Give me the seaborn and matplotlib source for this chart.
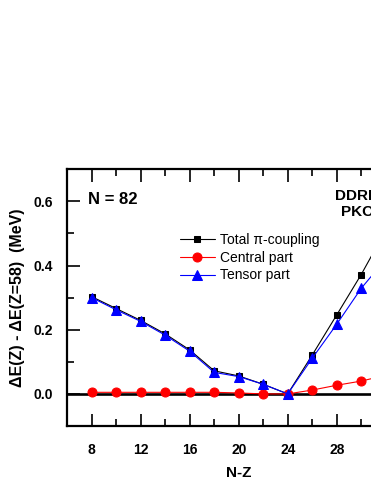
import matplotlib
matplotlib.use("Agg")
import matplotlib.pyplot as plt
import seaborn as sns
import pandas as pd
from matplotlib.ticker import MultipleLocator

# ---- data ----
nz = [8, 10, 12, 14, 16, 18, 20, 22, 24, 26, 28, 30, 32]
total = [0.303, 0.266, 0.229, 0.187, 0.137, 0.072, 0.056, 0.030, 0.0, 0.121, 0.246, 0.372, 0.51]
central = [0.005, 0.005, 0.005, 0.005, 0.005, 0.005, 0.003, 0.0, 0.0, 0.012, 0.027, 0.040, 0.058]
tensor = [0.300, 0.262, 0.226, 0.183, 0.133, 0.067, 0.054, 0.030, 0.0, 0.111, 0.217, 0.329, 0.42]
series_labels = ["Total \u03c0-coupling", "Central part", "Tensor part"]
x_ticks = [8, 12, 16, 20, 24, 28]
y_ticks = [0.0, 0.2, 0.4, 0.6]

df = pd.DataFrame({"nz": nz, "total": total, "central": central, "tensor": tensor})

sns.set_style("ticks")
plt.rcParams["font.family"] = ["Liberation Sans", "DejaVu Sans"]
for k in ["axes.edgecolor", "xtick.color", "ytick.color", "text.color", "axes.labelcolor"]:
    plt.rcParams[k] = "black"

W, H = 371, 480
fig = plt.figure(figsize=(W / 100, H / 100), dpi=100)
# axes: left spine at x=67.2px, top at y=169.3px, bottom at y=426px; extends past right edge
x0, xmin, xmax, pxu = 67.2, 6, 34, 12.25
ax = fig.add_axes([x0 / W, (H - 426) / H, (xmax - xmin) * pxu / W, (426 - 169.3) / H])

ax.axhline(0, color="black", lw=1.9, zorder=1)

styles = [("total", "black", "s", 5.0), ("central", "red", "o", 6.5), ("tensor", "blue", "^", 7.0)]
for (col, c, m, ms), lab in zip(styles, series_labels):
    sns.lineplot(data=df, x="nz", y=col, ax=ax, color=c, marker=m, markersize=ms,
                 markeredgecolor=c, markerfacecolor=c, linewidth=0.8, label=lab, zorder=3)

ax.set_xlim(xmin, xmax)
ax.set_ylim(-0.1, 0.7)
ax.set_xticks(x_ticks + [32])
ax.set_yticks(y_ticks)
ax.xaxis.set_minor_locator(MultipleLocator(2))
ax.yaxis.set_minor_locator(MultipleLocator(0.1))
ax.set_xticklabels([str(v) for v in x_ticks] + [""], fontsize=10, fontweight="bold")
ax.set_yticklabels([f"{v:.1f}" for v in y_ticks], fontsize=10, fontweight="bold")
ax.tick_params(which="both", direction="in", top=True, right=True, width=1.2)
ax.tick_params(axis="x", which="major", length=9, pad=12)
ax.tick_params(axis="y", which="major", length=9, pad=10)
ax.tick_params(which="minor", length=5)
for s in ax.spines.values():
    s.set_linewidth(1.6)

ax.set_xlabel("N-Z", fontsize=11, fontweight="bold", labelpad=7)
ax.set_ylabel("\u0394E(Z) - \u0394E(Z=58)  (MeV)", fontsize=11.5, fontweight="bold", labelpad=6)

ax.legend(loc="upper left", bbox_to_anchor=(0.329, 0.752), frameon=False, fontsize=10,
          handlelength=2.5, handletextpad=0.36, labelspacing=0.27, borderpad=0, borderaxespad=0)

ax.text(0.0606, 0.884, "N = 82", transform=ax.transAxes, fontsize=12, fontweight="bold",
        ha="left", va="center")
ax.text(0.8595, 0.865, "DDRHF\nPKO1", transform=ax.transAxes, fontsize=11, fontweight="bold",
        ha="center", va="center", multialignment="center", linespacing=1.25)

fig.savefig("out.png", dpi=100)
